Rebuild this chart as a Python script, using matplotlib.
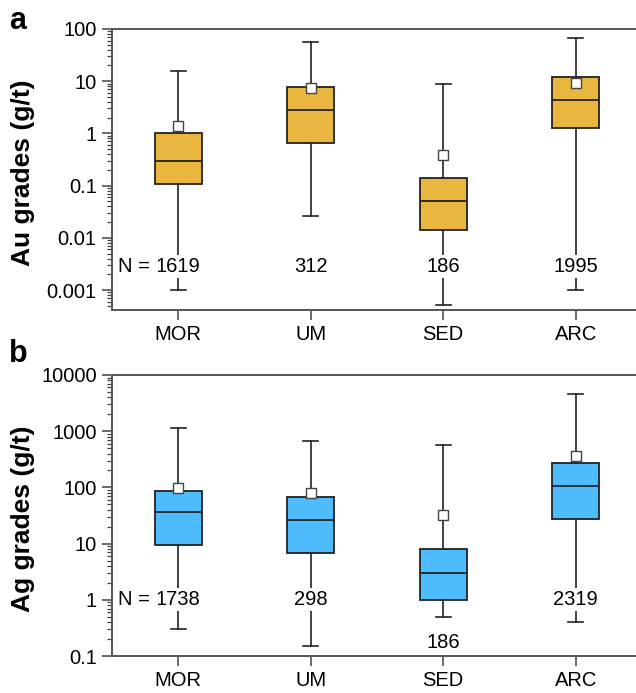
import numpy as np
import matplotlib
matplotlib.use('Agg')
from matplotlib import pyplot as plt
from matplotlib.ticker import LogLocator, FuncFormatter, NullFormatter

plt.rcParams['font.family'] = ['Liberation Sans', 'DejaVu Sans']

settings = ['MOR', 'UM', 'SED', 'ARC']

# Au grades (g/t): whisker ends, quartiles, median, mean, count
au_low = [0.001, 0.0258, 0.00052, 0.001]
au_q1 = [0.109, 0.66, 0.0141, 1.25]
au_med = [0.30, 2.8, 0.0507, 4.3]
au_q3 = [1.03, 7.85, 0.14, 11.9]
au_high = [15.7, 55.6, 8.8, 67.0]
au_mean = [1.41, 7.4, 0.38, 9.4]
au_n = [1619, 312, 186, 1995]

# Ag grades (g/t)
ag_low = [0.30, 0.149, 0.50, 0.40]
ag_q1 = [9.4, 6.9, 1.0, 26.9]
ag_med = [35.8, 26.0, 3.05, 107.0]
ag_q3 = [88.0, 67.0, 8.0, 267.0]
ag_high = [1153.0, 676.0, 574.0, 4530.0]
ag_mean = [98.0, 79.0, 32.0, 366.0]
ag_n = [1738, 298, 186, 2319]

gold = '#E9B73F'
blue = '#4FBDFD'
edge = '#222222'


def box_stats(low, q1, med, q3, high, mean):
    stats = []
    for i in range(len(low)):
        stats.append(dict(whislo=low[i], q1=q1[i], med=med[i], q3=q3[i],
                          whishi=high[i], mean=mean[i], fliers=[]))
    return stats


def draw_panel(ax, stats, color, counts, ylim, label, n_y, n_y_override=None):
    pos = np.arange(1, len(stats) + 1)
    ax.bxp(stats, positions=pos, widths=0.355, patch_artist=True, showmeans=True,
           showfliers=False,
           boxprops=dict(facecolor=color, edgecolor=edge, linewidth=1.3),
           medianprops=dict(color=edge, linewidth=1.3),
           whiskerprops=dict(color=edge, linewidth=1.2),
           capprops=dict(color=edge, linewidth=1.2),
           capwidths=0.11,
           meanprops=dict(marker='s', markerfacecolor='white', markeredgecolor='#444444',
                          markersize=7, markeredgewidth=1.0))
    ax.set_yscale('log')
    ax.set_ylim(*ylim)
    ax.set_xlim(0.5, 4.5)
    ax.set_xticks(pos)
    ax.set_xticklabels(settings)

    ax.yaxis.set_major_locator(LogLocator(base=10, numticks=12))
    ax.yaxis.set_minor_locator(LogLocator(base=10, subs=np.arange(2, 10), numticks=12))
    ax.yaxis.set_major_formatter(FuncFormatter(lambda v, p: '{:g}'.format(v)))
    ax.yaxis.set_minor_formatter(NullFormatter())
    ax.tick_params(axis='both', which='major', length=7, width=1.1, labelsize=14.5,
                   color='#444444', pad=4)
    ax.tick_params(axis='y', which='minor', length=3.5, width=0.9, color='#444444')
    ax.tick_params(axis='x', which='minor', bottom=False)

    for side in ['left', 'top', 'bottom']:
        ax.spines[side].set_color('#555555')
        ax.spines[side].set_linewidth(1.4)
    ax.spines['right'].set_visible(False)

    ax.set_ylabel(label, fontsize=19, fontweight='bold', va='center')
    ax.yaxis.set_label_coords(-0.168, 0.49)

    for i, n in enumerate(counts):
        y = n_y
        if n_y_override is not None and i in n_y_override:
            y = n_y_override[i]
        t = ax.text(pos[i], y, str(n), ha='center', va='center', fontsize=14.5,
                    bbox=dict(facecolor='white', edgecolor='none', pad=1.5), zorder=5)
        if i == 0:
            ax.annotate('N = ', xy=(0, 0.5), xycoords=t, ha='right', va='center',
                        fontsize=14.5, zorder=5,
                        bbox=dict(facecolor='white', edgecolor='none', pad=1.5))


fig = plt.figure(figsize=(6.36, 6.93), dpi=100)
W, H = 636.0, 693.0
ax_a = fig.add_axes([112 / W, 1 - 310 / H, 530 / W, 281 / H])
ax_b = fig.add_axes([112 / W, 1 - 656 / H, 530 / W, 281 / H])

draw_panel(ax_a, box_stats(au_low, au_q1, au_med, au_q3, au_high, au_mean), gold, au_n,
           (10 ** -3.383, 100), 'Au grades (g/t)', 0.0028)
draw_panel(ax_b, box_stats(ag_low, ag_q1, ag_med, ag_q3, ag_high, ag_mean), blue, ag_n,
           (0.1, 10000), 'Ag grades (g/t)', 1.0, {2: 0.177})

# panel letters
fig.text(9 / W, 1 - 29 / H, 'a', fontsize=22, fontweight='bold', ha='left', va='baseline')
fig.text(9 / W, 1 - 362 / H, 'b', fontsize=22, fontweight='bold', ha='left', va='baseline')

fig.savefig('out.png', dpi=100)
